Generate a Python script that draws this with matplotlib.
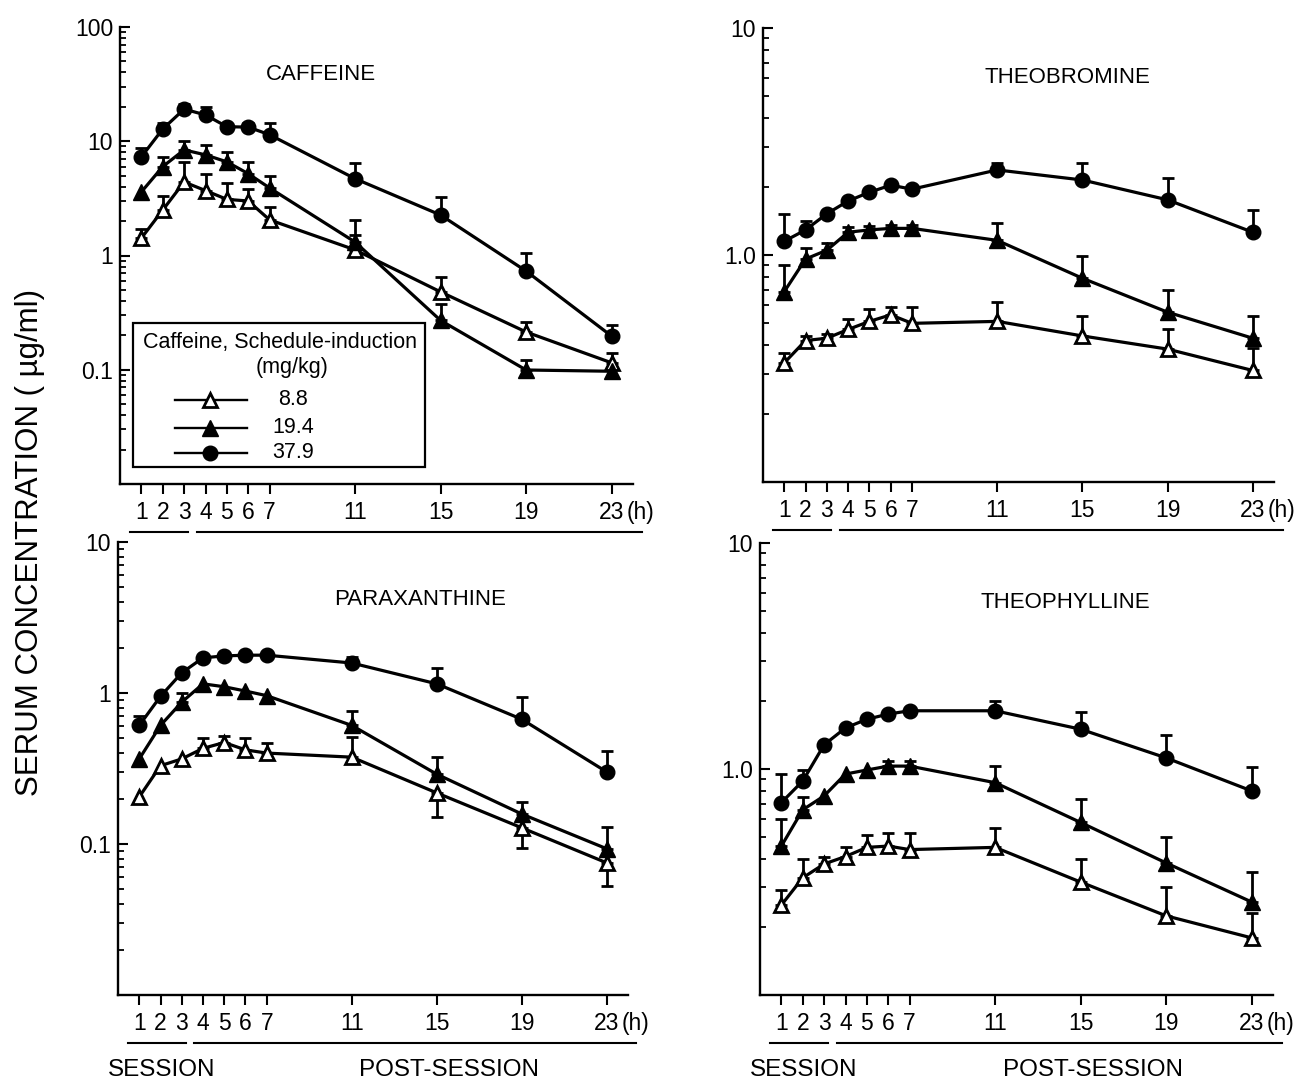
import numpy as np
import matplotlib
matplotlib.use("Agg")
import matplotlib.pyplot as plt
from matplotlib.patches import Rectangle
from matplotlib.transforms import blended_transform_factory

plt.rcParams['font.family'] = ['Liberation Sans', 'DejaVu Sans']

nan = np.nan
hours = [1, 2, 3, 4, 5, 6, 7, 11, 15, 19, 23]
xtick_labels = ['1', '2', '3', '4', '5', '6', '7', '11', '15', '19', '23']
dose_labels = ['8.8', '19.4', '37.9']

# CAFFEINE
caf_88 = [1.42, 2.5, 4.4, 3.7, 3.1, 3.0, 2.05, 1.12, 0.48, 0.214, 0.115]
caf_88_up = [1.7, 3.3, 6.6, 5.2, 4.3, 3.8, 2.65, 1.51, 0.65, 0.263, 0.14]
caf_194 = [3.6, 6.0, 8.4, 7.6, 6.6, 5.2, 3.9, 1.31, 0.27, 0.0995, 0.097]
caf_194_up = [nan, 7.3, 10.0, 9.3, 8.1, 6.6, 5.0, 2.04, 0.38, 0.122, nan]
caf_379 = [7.3, 12.8, 19.1, 17.0, 13.4, 13.3, 11.4, 4.7, 2.26, 0.73, 0.197]
caf_379_up = [8.7, 14.4, 21.2, 20.0, nan, 14.5, 14.4, 6.4, 3.25, 1.05, 0.246]

# THEOBROMINE
tb_88 = [0.335, 0.42, 0.43, 0.47, 0.51, 0.545, 0.5, 0.51, 0.44, 0.385, 0.31]
tb_88_up = [0.37, 0.44, 0.45, 0.52, 0.58, 0.59, 0.59, 0.62, 0.54, 0.47, 0.39]
tb_194 = [0.69, 0.96, 1.05, 1.26, 1.29, 1.31, 1.31, 1.16, 0.79, 0.56, 0.43]
tb_194_up = [0.9, 1.07, 1.13, 1.33, 1.34, 1.36, 1.36, 1.38, 0.99, 0.70, 0.54]
tb_379 = [1.15, 1.29, 1.52, 1.73, 1.89, 2.03, 1.95, 2.37, 2.14, 1.75, 1.26]
tb_379_up = [1.52, 1.41, nan, nan, nan, nan, nan, 2.54, 2.54, 2.18, 1.58]

# PARAXANTHINE
px_88 = [0.205, 0.33, 0.366, 0.43, 0.47, 0.42, 0.40, 0.376, 0.218, 0.128, 0.075]
px_88_up = [nan, nan, nan, 0.5, 0.52, 0.5, 0.47, 0.51, nan, nan, nan]
px_88_lo = [nan, nan, nan, nan, nan, nan, nan, nan, 0.151, 0.094, 0.053]
px_194 = [0.366, 0.61, 0.87, 1.15, 1.10, 1.03, 0.96, 0.61, 0.29, 0.158, 0.093]
px_194_up = [nan, nan, 1.0, nan, nan, nan, nan, 0.76, 0.375, 0.19, 0.13]
px_379 = [0.61, 0.95, 1.36, 1.71, 1.76, 1.78, 1.78, 1.58, 1.15, 0.67, 0.30]
px_379_up = [0.70, nan, nan, nan, nan, nan, nan, 1.73, 1.46, 0.94, 0.41]

# THEOPHYLLINE
tp_88 = [0.25, 0.33, 0.38, 0.41, 0.45, 0.456, 0.44, 0.45, 0.316, 0.224, 0.179]
tp_88_up = [0.29, 0.40, 0.41, 0.45, 0.51, 0.52, 0.52, 0.55, 0.40, 0.30, 0.23]
tp_194 = [0.456, 0.66, 0.76, 0.95, 0.99, 1.03, 1.03, 0.87, 0.58, 0.384, 0.258]
tp_194_up = [0.6, 0.75, nan, nan, nan, 1.08, 1.08, 1.03, 0.74, 0.50, 0.35]
tp_379 = [0.71, 0.885, 1.28, 1.52, 1.66, 1.75, 1.81, 1.81, 1.50, 1.12, 0.80]
tp_379_up = [0.95, 0.99, nan, nan, nan, nan, nan, 2.0, 1.78, 1.41, 1.02]

W, H = 1310, 1084
fig = plt.figure(figsize=(W / 100, H / 100), dpi=100)

def rect(l, r, t, b):
    return [l / W, 1 - b / H, (r - l) / W, (b - t) / H]

panels = [
    dict(name='CAFFEINE', rect=(120, 633, 27, 484), ylim=(0.01, 100),
         yt=[0.1, 1, 10, 100], ytl=['0.1', '1', '10', '100'],
         series=[(caf_88, caf_88_up, None), (caf_194, caf_194_up, None), (caf_379, caf_379_up, None)],
         title_xy=(9.4, 0.895), bottom=False),
    dict(name='THEOBROMINE', rect=(763, 1274, 28, 482), ylim=(0.1, 10),
         yt=[1, 10], ytl=['1.0', '10'],
         series=[(tb_88, tb_88_up, None), (tb_194, tb_194_up, None), (tb_379, tb_379_up, None)],
         title_xy=(14.3, 0.89), bottom=False),
    dict(name='PARAXANTHINE', rect=(118, 628, 542, 995), ylim=(0.01, 10),
         yt=[0.1, 1, 10], ytl=['0.1', '1', '10'],
         series=[(px_88, px_88_up, px_88_lo), (px_194, px_194_up, None), (px_379, px_379_up, None)],
         title_xy=(14.2, 0.872), bottom=True),
    dict(name='THEOPHYLLINE', rect=(760, 1273, 543, 995), ylim=(0.1, 10),
         yt=[1, 10], ytl=['1.0', '10'],
         series=[(tp_88, tp_88_up, None), (tp_194, tp_194_up, None), (tp_379, tp_379_up, None)],
         title_xy=(14.3, 0.869), bottom=True),
]

styles = [
    dict(marker='^', mfc='white', mec='black', ms=10.5, mew=2.0),
    dict(marker='^', mfc='black', mec='black', ms=11, mew=1.0),
    dict(marker='o', mfc='black', mec='black', ms=10.5, mew=1.0),
]

lw = 2.3
for p in panels:
    l, r, t, b = p['rect']
    ax = fig.add_axes(rect(l, r, t, b))
    ax_h = b - t
    ax.set_yscale('log')
    ax.set_xlim(0, 24)
    ax.set_ylim(*p['ylim'])
    for s in ['top', 'right']:
        ax.spines[s].set_visible(False)
    for s in ['left', 'bottom']:
        ax.spines[s].set_linewidth(1.7)
    ax.set_yticks(p['yt'])
    ax.set_yticklabels(p['ytl'])
    ax.tick_params(axis='y', which='major', direction='in', length=7, width=1.5,
                   labelsize=16.5, pad=5)
    ax.tick_params(axis='y', which='minor', direction='in', length=4, width=1.3)
    ax.set_xticks(hours)
    ax.set_xticklabels(xtick_labels)
    ax.tick_params(axis='x', which='major', direction='out', length=7, width=1.5,
                   labelsize=16.5, pad=5)
    ax.tick_params(axis='x', which='minor', length=0)

    for (vals, up, lo), st in zip(p['series'], styles):
        vals = np.array(vals, dtype=float)
        x = np.array(hours, dtype=float)
        if up is not None:
            up = np.array(up, dtype=float)
            m = ~np.isnan(up)
            ax.errorbar(x[m], vals[m], yerr=[np.zeros(m.sum()), up[m] - vals[m]],
                        fmt='none', ecolor='black', elinewidth=2.0, capsize=4.5,
                        capthick=2.0, zorder=2)
        if lo is not None:
            lo = np.array(lo, dtype=float)
            m = ~np.isnan(lo)
            ax.errorbar(x[m], vals[m], yerr=[vals[m] - lo[m], np.zeros(m.sum())],
                        fmt='none', ecolor='black', elinewidth=2.0, capsize=4.5,
                        capthick=2.0, zorder=2)
        ax.plot(x, vals, color='black', lw=lw, zorder=3, **st)

    ax.text(p['title_xy'][0], p['title_xy'][1], p['name'],
            transform=blended_transform_factory(ax.transData, ax.transAxes),
            ha='center', va='center', fontsize=16)

    # "(h)" after 23
    ax.annotate('(h)', xy=(23, 0), xycoords=('data', 'axes fraction'),
                xytext=(11, -12), textcoords='offset points',
                ha='left', va='top', fontsize=16.5)

    # Session / post-session bracket lines
    bt = blended_transform_factory(ax.transData, ax.transAxes)
    yl = -48.0 / ax_h
    ax.plot([0.45, 3.2], [yl, yl], color='black', lw=1.5, transform=bt, clip_on=False)
    ax.plot([3.6, 24.4], [yl, yl], color='black', lw=1.5, transform=bt, clip_on=False)
    if p['bottom']:
        ys = -75.0 / ax_h
        ax.text(2.05, ys, 'SESSION', transform=bt, ha='center', va='center', fontsize=17.5)
        ax.text(15.6, ys, 'POST-SESSION', transform=bt, ha='center', va='center', fontsize=17.5)

    if p['name'] == 'CAFFEINE':
        # legend box drawn inside the caffeine panel
        ax.add_patch(Rectangle((0.025, 0.037), 0.57, 0.315, transform=ax.transAxes,
                               fill=False, edgecolor='black', lw=1.6, zorder=4,
                               clip_on=False))
        ax.text(0.312, 0.309, 'Caffeine, Schedule-induction', transform=ax.transAxes,
                ha='center', va='center', fontsize=15.5)
        ax.text(0.335, 0.256, '(mg/kg)', transform=ax.transAxes,
                ha='center', va='center', fontsize=15.5)
        for yy, lab, st in zip([0.184, 0.123, 0.068], dose_labels, styles):
            ax.plot([0.107, 0.175, 0.248], [yy, yy, yy], color='black', lw=1.7,
                    markevery=[1], transform=ax.transAxes, clip_on=False, zorder=5, **st)
            ax.text(0.337, yy, lab, transform=ax.transAxes, ha='center', va='center',
                    fontsize=15.5)

fig.text(30 / W, 0.5, 'SERUM CONCENTRATION ( µg/ml)', rotation=90,
         ha='center', va='center', fontsize=22.5)

fig.savefig('out.png', dpi=100)
